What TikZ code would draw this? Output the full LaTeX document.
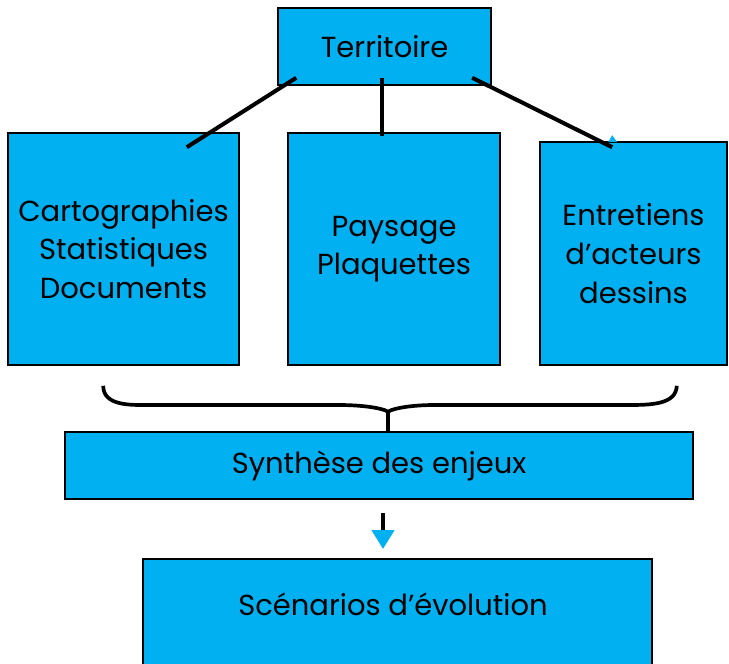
\documentclass[tikz,border=0pt]{standalone}
\usepackage{fontspec}
\setmainfont{Poppins}
\usetikzlibrary{arrows.meta,calc,positioning}
\definecolor{boxblue}{HTML}{00B0F0}

\begin{document}
\begin{tikzpicture}[x=0.02cm, y=-0.02cm]
                \tikzstyle{box} = [shape=rectangle, fill=boxblue, draw=black, line width=0.9pt, inner sep=0pt, align=center, font=\fontsize{16.5}{22}\selectfont];
                \tikzstyle{link} = [line width=2.3pt];

                \useasboundingbox (0,0) rectangle (729,663);

                \node[box, minimum width=213*0.02cm, minimum height=77*0.02cm](T) at (384.5,46.5) {Territoire};
                \node[box, minimum width=231*0.02cm, minimum height=232*0.02cm](C) at (123.5,249) {Cartographies\\Statistiques\\Documents};
                \node[box, minimum width=212*0.02cm, minimum height=232*0.02cm](P) at (394,249) {Paysage\\Plaquettes};
                \node[box, minimum width=187*0.02cm, minimum height=223*0.02cm](E) at (633.5,253.5) {Entretiens\\d’acteurs\\dessins};
                \node[box, minimum width=628*0.02cm, minimum height=67*0.02cm](S) at (379,465.5) {Synthèse des enjeux};
                \node[box, minimum width=509*0.02cm, minimum height=140*0.02cm, anchor=north](R) at (397.5,558) {};
                \node[font=\fontsize{16.5}{22}\selectfont](RT) at (393,604) {Scénarios d’évolution};

                \draw[link] ($(T.south west)+(19,-8)$) -- ($(C.north east)+(-53,15)$);
                \draw[link] ($(T.south west)+(105,-8)$) -- ($(P.north west)+(95,4)$);
                \draw[link] ($(T.south west)+(195,-8)$) -- ($(E.north west)+(73,6)$);
                \fill[boxblue] ($(E.north west)+(73,-6)$) -- ++(5,7) -- ++(-9,0) -- cycle;

                \coordinate (BL) at ($(C.south west)+(96,20)$);
                \coordinate (BR) at ($(E.south east)+(-51,20)$);
                \coordinate (BM) at ($(S.north)+(9,-19)$);
                \draw[line width=2.1pt] (BL) .. controls ++(0,20) and (130,405) .. (147,405) -- (339,405)
                    .. controls (370,405) and (388,410) .. (BM)
                    .. controls (388,410) and (406,405) .. (434,405) -- (626,405)
                    .. controls (650,405) and (676,405) .. (BR);
                \draw[line width=2.1pt] (BM) -- (S.north -| BM);

                \draw[-{Triangle[length=10.8pt, width=12.5pt, color=boxblue]}, line width=2.6pt]
                    ($(S.south)+(4,13)$) -- ($(R.north)+(-14.5,-9)$);
            \end{tikzpicture}
\end{document}
